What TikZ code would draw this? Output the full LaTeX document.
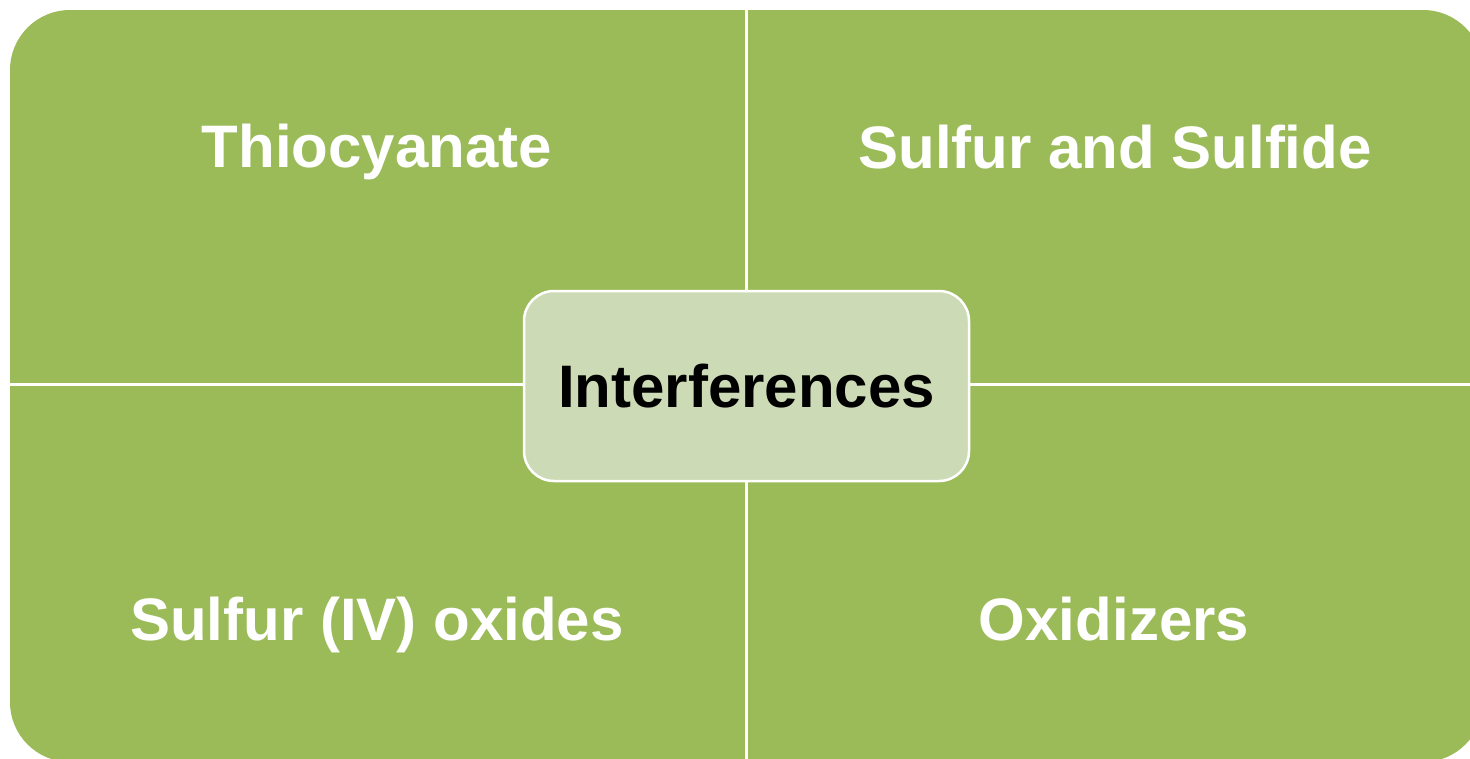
\documentclass[tikz,border=0pt]{standalone}
\usepackage{fontspec}
\setmainfont{Liberation Sans}
\definecolor{quadgreen}{HTML}{9BBB59}
\definecolor{centergreen}{HTML}{CDDAB6}
\tikzset{
  quadlabel/.style={anchor=base, text=white, font=\fontsize{60}{72}\selectfont\bfseries, inner sep=0pt},
  centerbox/.style={draw=white, line width=2.5pt, fill=centergreen, rounded corners=30pt,
    minimum width=445pt, minimum height=190pt, inner sep=0pt, text=black,
    font=\fontsize{60}{72}\selectfont\bfseries},
  gapline/.style={draw=white, line width=3pt}
}
\begin{document}
\begin{tikzpicture}[x=1pt,y=-1pt]
\useasboundingbox (0,0) rectangle (1470,758);
\fill[quadgreen, rounded corners=60pt] (10,10) rectangle (1483,762);
\coordinate (vtop) at (746.5,0);
\coordinate (vbot) at (746.5,770);
\coordinate (hleft) at (0,384.5);
\coordinate (hright) at (1490,384.5);
\draw[gapline] (vtop) -- (vbot);
\draw[gapline] (hleft) -- (hright);
\node[quadlabel] (thio) at (377,167) {Thiocyanate};
\node[quadlabel] (sulf) at (1115,168) {Sulfur and Sulfide};
\node[quadlabel] (oxid4) at (377,640) {Sulfur (IV) oxides};
\node[quadlabel] (oxiz) at (1114,640) {Oxidizers};
\node[centerbox] (center) at (746.5,386) {\raisebox{-4pt}{Interferences}};
\end{tikzpicture}
\end{document}
